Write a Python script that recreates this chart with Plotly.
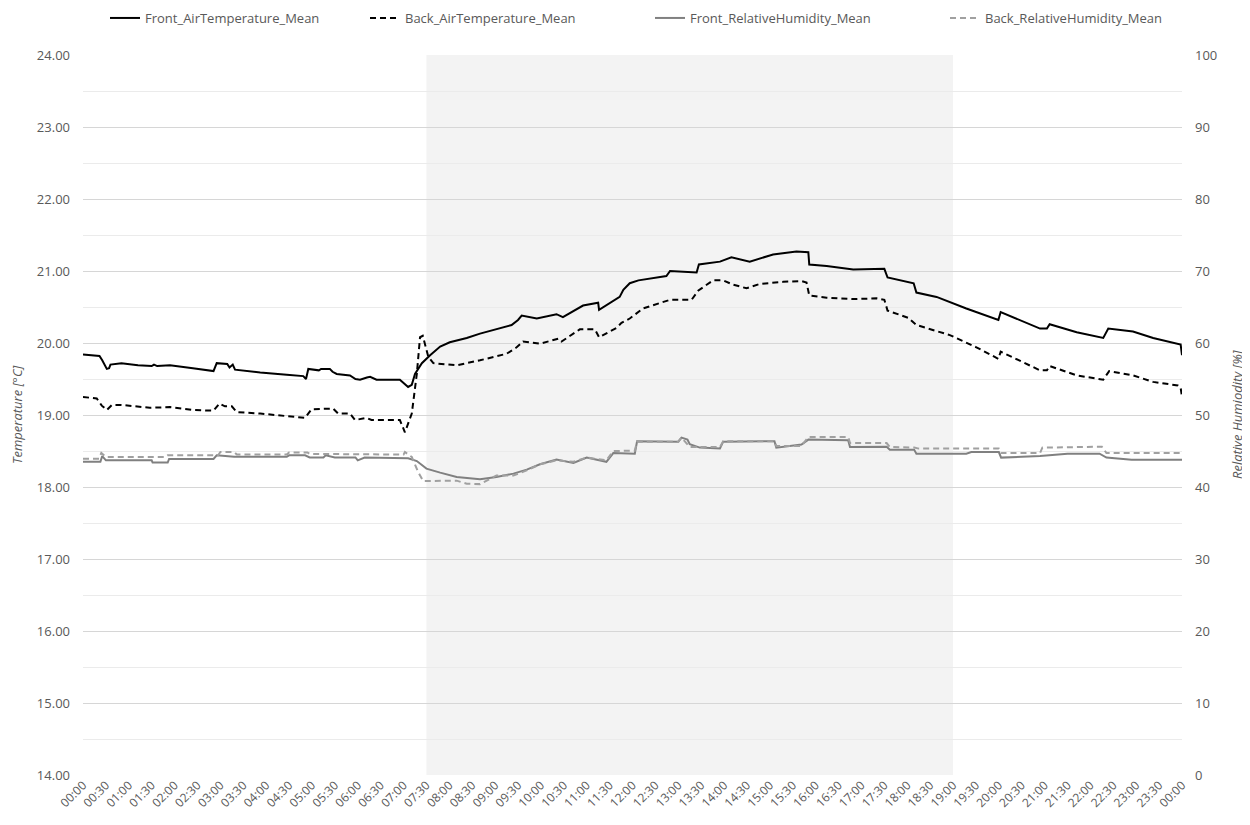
import plotly.graph_objects as go

# ---- data (hours since 00:00) ----
front_temp_t = [0.00, 0.36, 0.42, 0.52, 0.57, 0.60, 0.84, 1.20, 1.50, 1.55, 1.62, 1.90, 2.40, 2.85, 2.92, 3.15, 3.20, 3.27, 3.32,
                3.87, 4.45, 4.81, 4.87, 4.92, 5.15, 5.20, 5.39, 5.45, 5.54, 5.83, 5.95, 6.05, 6.20, 6.27, 6.41, 6.92, 7.10,
                7.18, 7.25, 7.40, 7.58, 7.80, 8.01, 8.38, 8.67, 9.10, 9.36, 9.50, 9.58, 9.91, 10.34, 10.48, 10.92, 11.25,
                11.27, 11.72, 11.80, 11.94, 12.13, 12.74, 12.82, 13.40, 13.45, 13.91, 14.16, 14.56, 15.07, 15.58, 15.84,
                15.86, 16.24, 16.82, 17.44, 17.50, 17.57, 17.84, 18.14, 18.20, 18.64, 19.29, 19.99, 20.04, 20.90, 21.05,
                21.11, 21.70, 22.28, 22.39, 22.93, 23.37, 23.91, 23.97, 24.00]
front_temp = [19.84, 19.82, 19.76, 19.64, 19.65, 19.70, 19.72, 19.69, 19.68, 19.70, 19.68, 19.69, 19.65, 19.61, 19.72, 19.71,
              19.66, 19.70, 19.63, 19.59, 19.56, 19.54, 19.50, 19.64, 19.62, 19.64, 19.64, 19.60, 19.57, 19.55, 19.50, 19.49,
              19.52, 19.53, 19.49, 19.49, 19.39, 19.42, 19.57, 19.72, 19.83, 19.95, 20.01, 20.07, 20.13, 20.20, 20.25, 20.32,
              20.38, 20.34, 20.40, 20.36, 20.52, 20.56, 20.46, 20.64, 20.74, 20.83, 20.87, 20.93, 21.00, 20.98, 21.09, 21.13,
              21.19, 21.13, 21.23, 21.27, 21.26, 21.09, 21.07, 21.02, 21.03, 21.03, 20.91, 20.87, 20.83, 20.70, 20.64, 20.48,
              20.32, 20.43, 20.20, 20.20, 20.26, 20.15, 20.07, 20.20, 20.16, 20.07, 19.99, 19.98, 19.83]

back_temp_t = [0.00, 0.30, 0.41, 0.52, 0.63, 0.84, 1.46, 1.90, 2.40, 2.85, 2.98, 3.10, 3.25, 3.36, 3.87, 4.45, 4.85, 4.99,
               5.46, 5.57, 5.83, 5.94, 6.19, 6.30, 6.92, 7.03, 7.18, 7.29, 7.36, 7.42, 7.54, 7.65, 8.16, 8.67, 9.25, 9.47,
               9.61, 9.98, 10.38, 10.45, 10.85, 11.18, 11.27, 11.65, 11.76, 11.94, 12.23, 12.82, 13.29, 13.44, 13.76,
               13.98, 14.20, 14.49, 14.78, 15.29, 15.69, 15.80, 15.86, 16.24, 16.82, 17.33, 17.50, 17.57, 17.84, 18.02,
               18.20, 18.93, 19.51, 19.99, 20.04, 20.90, 21.05, 21.11, 21.70, 22.28, 22.41, 22.93, 23.37, 23.91, 23.97,
               24.00]
back_temp = [19.25, 19.23, 19.13, 19.07, 19.14, 19.14, 19.10, 19.11, 19.07, 19.06, 19.16, 19.12, 19.12, 19.04, 19.02, 18.99,
             18.96, 19.08, 19.09, 19.02, 19.02, 18.93, 18.96, 18.93, 18.93, 18.76, 19.02, 19.57, 20.08, 20.10, 19.81, 19.72,
             19.69, 19.76, 19.85, 19.94, 20.02, 19.99, 20.06, 20.02, 20.19, 20.19, 20.08, 20.21, 20.28, 20.34, 20.48, 20.60,
             20.60, 20.73, 20.87, 20.87, 20.81, 20.76, 20.82, 20.85, 20.86, 20.84, 20.66, 20.63, 20.61, 20.62, 20.60, 20.45,
             20.39, 20.35, 20.25, 20.11, 19.94, 19.78, 19.88, 19.62, 19.62, 19.68, 19.55, 19.49, 19.61, 19.55, 19.46, 19.41,
             19.38, 19.25]

front_rh_t = [0.00, 0.38, 0.42, 0.50, 1.50, 1.52, 1.85, 1.88, 2.85, 2.92, 3.30, 4.45, 4.50, 4.85, 4.95, 5.25, 5.30, 5.50,
              5.95, 6.00, 6.15, 7.00, 7.10, 7.29, 7.50, 7.80, 8.16, 8.67, 9.03, 9.40, 9.69, 9.98, 10.34, 10.71, 11.00, 11.43,
              11.58, 12.05, 12.10, 13.00, 13.07, 13.20, 13.25, 13.47, 13.91, 13.98, 15.10, 15.14, 15.69, 15.84, 16.71, 16.75,
              17.55, 17.62, 18.15, 18.20, 19.29, 19.40, 20.00, 20.05, 20.90, 21.50, 22.20, 22.35, 22.90, 24.00]
front_rh = [43.5, 43.5, 44.3, 43.7, 43.7, 43.4, 43.4, 43.9, 43.9, 44.4, 44.2, 44.2, 44.4, 44.4, 44.1, 44.1, 44.4, 44.1,
            44.1, 43.7, 44.1, 44.1, 44.0, 43.6, 42.55, 42.0, 41.4, 41.07, 41.4, 41.86, 42.41, 43.15, 43.8, 43.33, 44.1, 43.5,
            44.72, 44.63, 46.35, 46.3, 46.86, 46.6, 45.93, 45.47, 45.35, 46.3, 46.35, 45.47, 45.9, 46.58, 46.5, 45.56,
            45.6, 45.19, 45.19, 44.63, 44.63, 44.86, 44.86, 44.08, 44.3, 44.63, 44.63, 44.08, 43.8, 43.8]

back_rh_t = [0.00, 0.35, 0.40, 0.50, 1.80, 1.85, 2.95, 3.00, 3.30, 3.36, 4.45, 4.50, 4.90, 4.95, 7.00, 7.03, 7.18, 7.32,
             7.43, 8.16, 8.38, 8.67, 9.03, 9.40, 9.69, 9.98, 10.34, 10.71, 11.00, 11.43, 11.58, 12.05, 12.10, 13.00, 13.07,
             13.25, 13.91, 13.98, 15.10, 15.14, 15.69, 15.84, 16.71, 16.75, 17.55, 17.62, 18.15, 18.25, 20.00, 20.05, 20.90,
             20.95, 22.25, 22.35, 24.00]
back_rh = [43.94, 43.94, 44.72, 44.17, 44.17, 44.4, 44.4, 44.86, 44.86, 44.5, 44.5, 44.8, 44.8, 44.6, 44.5, 44.86, 44.17,
           42.08, 40.83, 40.88, 40.46, 40.4, 41.6, 41.6, 42.3, 43.15, 43.7, 43.5, 44.1, 43.7, 45.0, 45.05, 46.3, 46.3,
           46.86, 45.56, 45.56, 46.35, 46.35, 45.7, 45.7, 46.95, 46.95, 46.11, 46.11, 45.56, 45.47, 45.33, 45.33, 44.72,
           44.72, 45.47, 45.6, 44.72, 44.72]

tick_vals = [i * 0.5 for i in range(49)]
tick_text = [f"{int(v) % 24:02d}:{int(round((v % 1) * 60)):02d}" for v in tick_vals]

shade_start, shade_end = 7.5, 19.0

FONT = "Open Sans"
GRAY = "#595959"
W, H = 1242, 817

fig = go.Figure()
fig.add_trace(go.Scatter(x=front_temp_t, y=front_temp, name="Front_AirTemperature_Mean", mode="lines",
                         line=dict(color="black", width=2), legend="legend"))
fig.add_trace(go.Scatter(x=back_temp_t, y=back_temp, name="Back_AirTemperature_Mean", mode="lines",
                         line=dict(color="black", width=2, dash="6px,4px"), legend="legend2"))
fig.add_trace(go.Scatter(x=front_rh_t, y=front_rh, name="Front_RelativeHumidity_Mean", mode="lines", yaxis="y2",
                         line=dict(color="#808080", width=2), legend="legend3"))
fig.add_trace(go.Scatter(x=back_rh_t, y=back_rh, name="Back_RelativeHumidity_Mean", mode="lines", yaxis="y2",
                         line=dict(color="#a0a0a0", width=2, dash="6px,4px"), legend="legend4"))

fig.add_shape(type="rect", xref="x", yref="paper", x0=shade_start, x1=shade_end, y0=0, y1=1,
              fillcolor="#f3f3f3", line=dict(width=0), layer="below")

def leg(xpix):
    return dict(orientation="h", x=xpix / W, xref="container", xanchor="left",
                y=1 - 10 / H, yref="container", yanchor="middle",
                font=dict(size=13, color=GRAY, family=FONT), bgcolor="rgba(0,0,0,0)", borderwidth=0)

fig.update_layout(
    width=W, height=H,
    margin=dict(l=75, r=68, t=47, b=50),
    paper_bgcolor="white", plot_bgcolor="rgba(0,0,0,0)",
    font=dict(family=FONT, size=12, color=GRAY),
    showlegend=True,
    legend=leg(97), legend2=leg(357), legend3=leg(642), legend4=leg(937),
    xaxis=dict(range=[0, 24], tickmode="array", tickvals=tick_vals, ticktext=tick_text, tickangle=-45,
               showgrid=False, zeroline=False, showline=False, ticks="", tickfont=dict(size=12, color=GRAY),
               automargin=False),
    yaxis=dict(range=[14, 24], dtick=1, tick0=14, tickformat=".2f", showgrid=True, gridcolor="#d6d6d6", gridwidth=1,
               minor=dict(dtick=0.5, showgrid=True, gridcolor="#ebebeb", gridwidth=1),
               zeroline=False, showline=False, ticks="", ticklabelstandoff=12, tickfont=dict(size=13, color=GRAY),
               automargin=False),
    yaxis2=dict(range=[0, 100], dtick=10, overlaying="y", side="right", showgrid=False, zeroline=False,
                showline=False, ticks="", ticklabelstandoff=12, tickfont=dict(size=13, color=GRAY),
                automargin=False),
    annotations=[
        dict(text="<i>Temperature [°C]</i>", xref="paper", yref="paper", x=(9 - 75) / 1099, y=0.5,
             xanchor="center", yanchor="middle", textangle=-90, showarrow=False,
             font=dict(size=13, color=GRAY, family=FONT)),
        dict(text="<i>Relative Humiodity [%]</i>", xref="paper", yref="paper", x=(1229 - 75) / 1099, y=0.5,
             xanchor="center", yanchor="middle", textangle=-90, showarrow=False,
             font=dict(size=13, color=GRAY, family=FONT)),
    ],
)

fig.write_html("out.html")
